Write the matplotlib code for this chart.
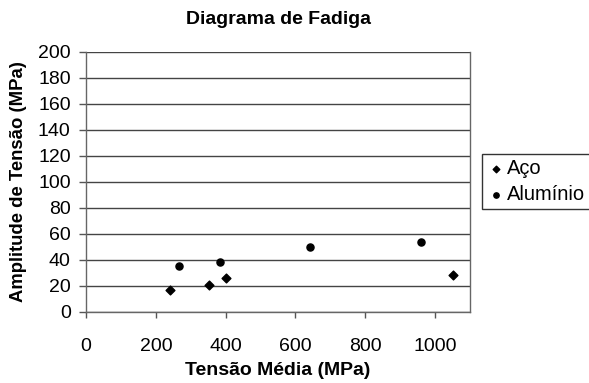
import matplotlib
matplotlib.use('Agg')
import matplotlib.pyplot as plt

plt.rcParams['font.family'] = ['Liberation Sans', 'DejaVu Sans']

# tensao media x amplitude de tensao (MPa)
aco_media = [240, 352, 402, 1050]
aco_amplitude = [17, 21, 26, 28.5]

aluminio_media = [266, 384, 641, 961]
aluminio_amplitude = [35.5, 38.7, 49.8, 53.6]

x_ticks = [0, 200, 400, 600, 800, 1000]
y_ticks = list(range(0, 201, 20))

fig = plt.figure(figsize=(5.89, 3.83), dpi=100)
ax = fig.add_axes([86 / 589, 1 - 312 / 383, 384 / 589, 260 / 383])

ax.scatter(aco_media, aco_amplitude, marker='D', s=20, color='black', label='Aço', zorder=3)
ax.scatter(aluminio_media, aluminio_amplitude, marker='o', s=26, color='black', label='Alumínio', zorder=3)

ax.set_xlim(0, 1100)
ax.set_ylim(0, 200)
ax.set_xticks(x_ticks)
ax.set_yticks(y_ticks)
ax.yaxis.grid(True, color='#444444', linewidth=1)
ax.set_axisbelow(True)

for side in ['left', 'bottom', 'right', 'top']:
    ax.spines[side].set_color('#666666')
    ax.spines[side].set_linewidth(1)
ax.spines['top'].set_visible(False)

ax.tick_params(axis='x', direction='out', length=4.5, width=1, color='#555555',
               labelsize=14, pad=14)
ax.tick_params(axis='y', direction='out', length=5, width=1, color='#555555',
               labelsize=14, pad=6)

fig.text(278 / 589, 1 - 19 / 383, 'Diagrama de Fadiga', fontsize=14, fontweight='bold',
         ha='center', va='center')
ax.set_xlabel('Tensão Média (MPa)', fontsize=14, fontweight='bold')
ax.set_ylabel('Amplitude de Tensão (MPa)', fontsize=13.3, fontweight='bold')
ax.xaxis.set_label_coords(0.5, (312 - 362) / 260)
ax.yaxis.set_label_coords((27 - 86) / 384, 0.5)

leg = fig.legend(loc='upper left', bbox_to_anchor=(482 / 589, 1 - 154 / 383),
                 frameon=True, fancybox=False, fontsize=14.5, handletextpad=0.1,
                 handlelength=0.9, borderpad=0.25, labelspacing=0.35,
                 borderaxespad=0, markerscale=0.75)
leg.get_frame().set_edgecolor('black')
leg.get_frame().set_linewidth(1)

fig.savefig('out.png', dpi=100)
